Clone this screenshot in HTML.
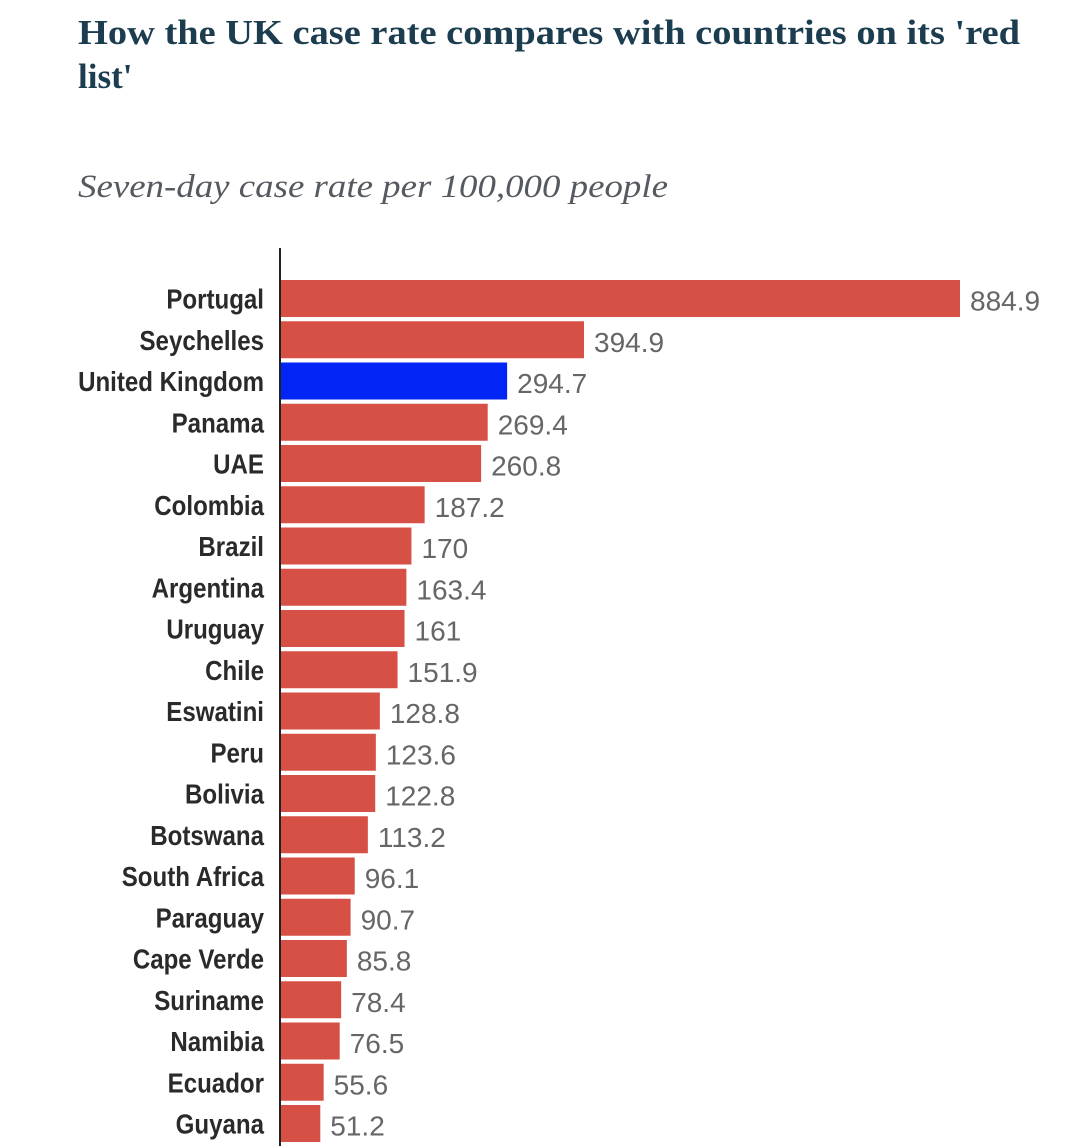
<!DOCTYPE html>
<html><head><meta charset="utf-8"><style>
html,body{margin:0;padding:0;background:#fff;width:1080px;height:1146px;overflow:hidden}
</style></head><body>
<svg id="chart" width="1080" height="1146" xmlns="http://www.w3.org/2000/svg">
<text x="78" y="44" font-family="Liberation Serif, serif" font-weight="bold" font-size="35" fill="#1b3d4f" textLength="942" lengthAdjust="spacingAndGlyphs">How the UK case rate compares with countries on its 'red</text>
<text x="78" y="88" font-family="Liberation Serif, serif" font-weight="bold" font-size="35" fill="#1b3d4f">list'</text>
<text x="78" y="197" font-family="Liberation Serif, serif" font-style="italic" font-size="33" fill="#555a60" textLength="590" lengthAdjust="spacingAndGlyphs">Seven-day case rate per 100,000 people</text>
<line x1="280" y1="248" x2="280" y2="1146" stroke="#222" stroke-width="2"/>
<g id="bars"></g>
</svg>
<script>
const categories = ["Portugal","Seychelles","United Kingdom","Panama","UAE","Colombia","Brazil","Argentina","Uruguay","Chile","Eswatini","Peru","Bolivia","Botswana","South Africa","Paraguay","Cape Verde","Suriname","Namibia","Ecuador","Guyana"];
const values = [884.9,394.9,294.7,269.4,260.8,187.2,170,163.4,161,151.9,128.8,123.6,122.8,113.2,96.1,90.7,85.8,78.4,76.5,55.6,51.2];
const valueLabels = ["884.9","394.9","294.7","269.4","260.8","187.2","170","163.4","161","151.9","128.8","123.6","122.8","113.2","96.1","90.7","85.8","78.4","76.5","55.6","51.2"];
const highlight = ["United Kingdom"];

const x0 = 281, xMaxPx = 960, maxV = Math.max(...values);
const xs = v => x0 + (v / maxV) * (xMaxPx - x0);
const top0 = 280, pitch = 41.25, bh = 37;
const ys = i => top0 + i * pitch;
const NS = "http://www.w3.org/2000/svg";
const g = document.getElementById("bars");
categories.forEach((c, i) => {
  const y = ys(i);
  const r = document.createElementNS(NS, "rect");
  
  
  r.setAttribute("x", x0);
  r.setAttribute("y", y);
  r.setAttribute("width", xs(values[i]) - x0);
  r.setAttribute("height", bh);
  r.setAttribute("fill", highlight.includes(c) ? "#0025f5" : "#d65045");
  g.appendChild(r);
  const t = document.createElementNS(NS, "text");
  
  
  t.setAttribute("x", 264);
  t.setAttribute("y", y + bh / 2 + 10);
  t.setAttribute("text-anchor", "end");
  t.setAttribute("font-family", "Liberation Sans, sans-serif");
  t.setAttribute("font-weight", "bold");
  t.setAttribute("font-size", "28");
  t.setAttribute("fill", "#2a2a2a");
  t.textContent = c;
  g.appendChild(t);
  const len = t.getComputedTextLength();
  t.setAttribute("textLength", len * 0.86);
  t.setAttribute("lengthAdjust", "spacingAndGlyphs");
  const v = document.createElementNS(NS, "text");
  
  
  v.setAttribute("x", xs(values[i]) + 10);
  v.setAttribute("y", y + bh / 2 + 12);
  v.setAttribute("font-family", "Liberation Sans, sans-serif");
  v.setAttribute("font-size", "28");
  v.setAttribute("fill", "#666");
  v.textContent = valueLabels[i];
  g.appendChild(v);
});
</script>
</body></html>
